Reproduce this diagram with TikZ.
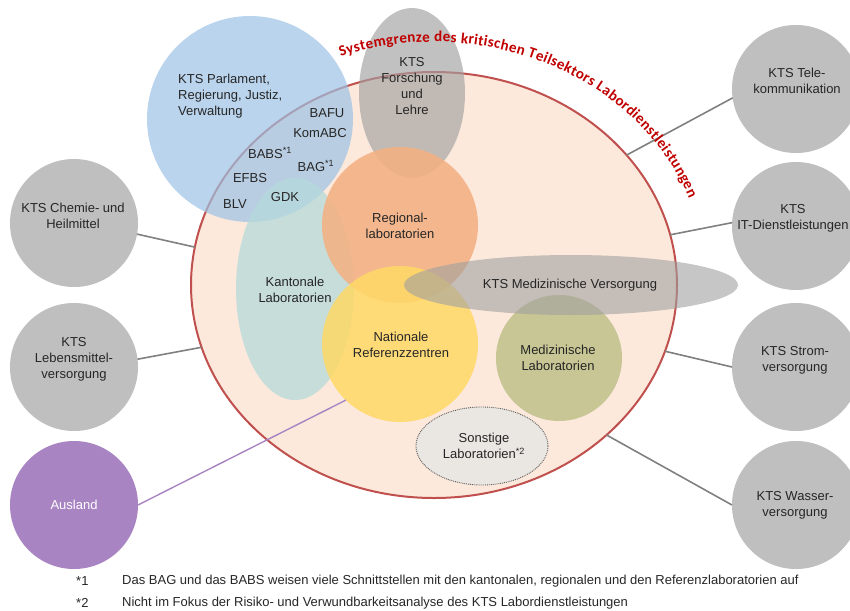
\documentclass[tikz,border=0pt]{standalone}
\usepackage{fontspec}
\setmainfont{Liberation Sans}
\newfontfamily\redfont{Carlito}
\usetikzlibrary{shapes.geometric,decorations.text}
\definecolor{peach}{RGB}{252,233,220}
\definecolor{redline}{RGB}{192,80,77}
\definecolor{sysred}{RGB}{192,0,0}
\definecolor{bluefill}{RGB}{156,194,229}
\definecolor{grayfill}{RGB}{160,160,160}
\definecolor{kantfill}{RGB}{180,218,218}
\definecolor{regfill}{RGB}{244,177,131}
\definecolor{natfill}{RGB}{255,217,102}
\definecolor{medfill}{RGB}{186,190,130}
\definecolor{sonstfill}{RGB}{234,230,226}
\definecolor{outergray}{RGB}{191,191,191}
\definecolor{auslandfill}{RGB}{169,132,195}
\definecolor{conngray}{RGB}{128,128,128}
\definecolor{txt}{RGB}{38,38,38}
\begin{document}
\begin{tikzpicture}[x=1pt,y=-1pt,
  blob/.style={ellipse, inner sep=0pt, outer sep=0pt},
  outer/.style={circle, inner sep=0pt, outer sep=0pt, minimum size=128pt, fill=outergray},
  lbl/.style={font=\fontsize{13}{16}\selectfont, align=center, inner sep=0pt, text=txt},
  conn/.style={draw=conngray, line width=1.6pt},
]
\useasboundingbox (0,0) rectangle (850,610);
\clip (0,0) rectangle (850,610);

% main system boundary
\node[blob, fill=peach, draw=redline, line width=2pt, minimum width=486pt, minimum height=426pt] (main) at (434,285) {};

% outer circles
\node[outer] (chem) at (74,223) {};
\node[outer] (leb) at (74,367) {};
\node[outer, fill=auslandfill] (aus) at (74,505) {};
\node[outer] (tele) at (796,89) {};
\node[outer] (it) at (796,226) {};
\node[outer] (strom) at (796,367) {};
\node[outer] (wasser) at (796,505) {};

% inner shapes
\node[blob, fill=bluefill, fill opacity=0.7, minimum width=206pt, minimum height=206pt] (parl) at (250,119) {};
\node[blob, fill=grayfill, fill opacity=0.65, minimum width=106pt, minimum height=170pt] (forsch) at (412,93) {};
\node[blob, fill=kantfill, fill opacity=0.75, minimum width=118pt, minimum height=222pt] (kant) at (295,289) {};
\node[blob, fill=regfill, fill opacity=0.88, minimum width=156pt, minimum height=156pt] (reg) at (400,225) {};
\node[blob, fill=natfill, fill opacity=0.85, minimum width=156pt, minimum height=156pt] (nat) at (400,344) {};
\node[blob, fill=medfill, fill opacity=0.8, minimum width=126pt, minimum height=126pt] (medlab) at (559,358) {};
\node[blob, fill=grayfill, fill opacity=0.6, minimum width=334pt, minimum height=60pt] (medvers) at (571,285) {};
\node[blob, fill=sonstfill, draw=black!65, densely dotted, line width=0.9pt, minimum width=132pt, minimum height=78pt] (sonst) at (482,446) {};

% connectors
\draw[conn] (chem.-10) -- (main.171);
\draw[conn] (leb.7) -- (main.195);
\draw[conn] (tele.188) -- (main.34);
\draw[conn] (it.177) -- (main.12);
\draw[conn] (strom.west) -- (main.-16.5);
\draw[conn] (wasser.west) -- (main.-41);
\draw[draw=auslandfill, line width=1.4pt] (aus.east) -- (nat.226);

% labels
\node[lbl, anchor=west, align=left] (tparl) at (178,96) {KTS Parlament,\\Regierung, Justiz,\\Verwaltung};
\node[lbl] (tbafu) at (327,113) {BAFU};
\node[lbl] (tkom) at (320,133) {KomABC};
\node[lbl] (tbabs) at (270,153) {BABS\textsuperscript{*1}};
\node[lbl] (tbag) at (316,166) {BAG\textsuperscript{*1}};
\node[lbl] (tefbs) at (250,178) {EFBS};
\node[lbl] (tgdk) at (285,197) {GDK};
\node[lbl] (tblv) at (235,204) {BLV};
\node[lbl] (tforsch) at (412,86) {KTS\\Forschung\\und\\Lehre};
\node[lbl] (treg) at (400,226) {Regional-\\laboratorien};
\node[lbl] (tkant) at (295,290) {Kantonale\\Laboratorien};
\node[lbl] (tnat) at (401,345) {Nationale\\Referenzzentren};
\node[lbl] (tmedvers) at (570,285) {KTS Medizinische Versorgung};
\node[lbl] (tmedlab) at (558,358) {Medizinische\\Laboratorien};
\node[lbl] (tsonst) at (484,446) {Sonstige\\Laboratorien\textsuperscript{*2}};
\node[lbl] (tchem) at (73,216) {KTS Chemie- und\\Heilmittel};
\node[lbl] (tleb) at (74,359) {KTS\\Lebensmittel-\\versorgung};
\node[lbl, text=white] (taus) at (74,505) {Ausland};
\node[lbl] (ttele) at (797,81) {KTS Tele-\\kommunikation};
\node[lbl] (tit) at (793,218) {KTS\\IT-Dienstleistungen};
\node[lbl] (tstrom) at (795,360) {KTS Strom-\\versorgung};
\node[lbl] (twasser) at (795,505) {KTS Wasser-\\versorgung};

% footnotes
\node[lbl, anchor=west] (fn1a) at (76,581) {*1};
\node[lbl, anchor=west] (fn1b) at (122,581) {Das BAG und das BABS weisen viele Schnittstellen mit den kantonalen, regionalen und den Referenzlaboratorien auf};
\node[lbl, anchor=west] (fn2a) at (76,603) {*2};
\node[lbl, anchor=west] (fn2b) at (122,603) {Nicht im Fokus der Risiko- und Verwundbarkeitsanalyse des KTS Labordienstleistungen};

% curved system boundary title
\coordinate (tstart) at (340.6,56.6);
\path[decorate, decoration={text along path, text align=fit to path,
  text={|\redfont\bfseries\fontsize{15.1}{18}\selectfont\color{sysred}|Systemgrenze des kritischen Teilsektors Labordienstleistungen}}]
  (tstart) arc[start angle=110, end angle=21, x radius=273pt, y radius=243pt];
\end{tikzpicture}
\end{document}
